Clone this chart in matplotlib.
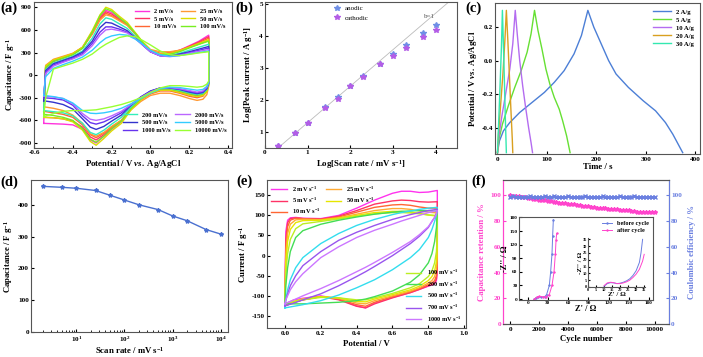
import numpy as np
import matplotlib
matplotlib.use('Agg')
import matplotlib.pyplot as plt
from matplotlib.ticker import MultipleLocator, FormatStrFormatter

plt.rcParams['font.family'] = ['Liberation Serif', 'DejaVu Serif']
plt.rcParams['font.weight'] = 'bold'
plt.rcParams['axes.labelweight'] = 'bold'
plt.rcParams['mathtext.fontset'] = 'custom'
plt.rcParams['mathtext.rm'] = 'Liberation Serif:bold'
plt.rcParams['mathtext.bf'] = 'Liberation Serif:bold'
plt.rcParams['mathtext.it'] = 'Liberation Serif:bold:italic'
plt.rcParams['mathtext.default'] = 'bf'
plt.rcParams['axes.unicode_minus'] = False
plt.rcParams['xtick.direction'] = 'in'
plt.rcParams['ytick.direction'] = 'in'
plt.rcParams['xtick.labelsize'] = 5.2
plt.rcParams['ytick.labelsize'] = 5.2
plt.rcParams['xtick.major.pad'] = 2
plt.rcParams['ytick.major.pad'] = 1.5
plt.rcParams['xtick.major.size'] = 2.5
plt.rcParams['ytick.major.size'] = 2.5
plt.rcParams['xtick.minor.size'] = 1.5
plt.rcParams['ytick.minor.size'] = 1.5
plt.rcParams['axes.labelsize'] = 6.3
plt.rcParams['axes.edgecolor'] = '#555555'
plt.rcParams['axes.linewidth'] = 0.8

# ---------------- (a) CV at different scan rates ----------------
a_labels = ['2 mV/s', '5 mV/s', '10 mV/s', '25 mV/s', '50 mV/s', '100 mV/s',
            '200 mV/s', '500 mV/s', '1000 mV/s', '2000 mV/s', '5000 mV/s', '10000 mV/s']
a_colors = ['#ff33dd', '#ff3366', '#ff6633', '#ff9933', '#dddd00', '#77ee22',
            '#33eebb', '#3333cc', '#6633ee', '#bb66ff', '#33ccff', '#99ff33']
a_E_up = [-0.55, -0.54, -0.50, -0.45, -0.40, -0.35, -0.30, -0.26, -0.23, -0.20, -0.16,
          -0.12, -0.08, -0.04, 0.00, 0.05, 0.10, 0.15, 0.20, 0.25, 0.30]
a_E_dn = [0.30, 0.29, 0.27, 0.24, 0.20, 0.15, 0.10, 0.05, 0.00, -0.05, -0.10,
          -0.15, -0.20, -0.24, -0.28, -0.31, -0.35, -0.40, -0.45, -0.50, -0.55]
a_up = [
    [-640, 100, 190, 230, 280, 370, 580, 780, 860, 830, 750, 680, 560, 430, 330, 280, 290, 330, 390, 450, 530],
    [-560, 90, 180, 225, 275, 360, 560, 760, 840, 810, 740, 670, 550, 420, 320, 270, 280, 320, 380, 440, 510],
    [-480, 110, 200, 240, 285, 365, 550, 740, 820, 790, 730, 670, 560, 430, 330, 290, 300, 330, 380, 430, 490],
    [-420, 130, 210, 250, 290, 370, 540, 730, 800, 780, 720, 660, 560, 440, 340, 310, 310, 330, 370, 410, 460],
    [-560, 120, 200, 240, 285, 370, 590, 800, 900, 870, 780, 700, 570, 440, 330, 280, 285, 320, 370, 420, 470],
    [-520, 100, 185, 225, 270, 355, 570, 790, 880, 850, 760, 680, 560, 430, 320, 270, 275, 310, 360, 410, 450],
    [-470, 70, 160, 205, 250, 320, 490, 680, 760, 740, 680, 620, 520, 410, 310, 260, 260, 290, 330, 370, 410],
    [-340, 60, 150, 195, 240, 305, 450, 630, 700, 690, 640, 590, 500, 400, 310, 260, 255, 280, 310, 345, 380],
    [-300, 40, 135, 180, 225, 285, 420, 570, 640, 640, 610, 570, 490, 400, 310, 255, 250, 270, 300, 330, 360],
    [-280, 20, 120, 170, 215, 270, 390, 530, 600, 610, 590, 560, 490, 400, 310, 255, 245, 260, 290, 315, 340],
    [-270, -20, 90, 140, 185, 240, 330, 430, 490, 520, 540, 530, 480, 410, 330, 270, 250, 260, 280, 300, 320],
    [-550, -300, 80, 120, 160, 210, 280, 360, 410, 450, 500, 520, 510, 460, 400, 320, 270, 260, 275, 295, 310],
]
a_dn = [
    [-100, -200, -260, -280, -260, -220, -190, -190, -230, -320, -450, -620, -720, -810, -900, -860, -720, -660, -650, -645, -640],
    [-100, -190, -250, -270, -250, -215, -185, -185, -225, -310, -440, -600, -700, -790, -860, -820, -690, -610, -580, -565, -560],
    [-120, -220, -280, -300, -280, -240, -210, -210, -250, -330, -450, -600, -690, -770, -830, -790, -660, -560, -520, -500, -480],
    [-150, -260, -320, -335, -310, -270, -240, -240, -270, -350, -460, -600, -680, -760, -810, -780, -640, -530, -470, -440, -420],
    [-130, -220, -270, -285, -265, -230, -200, -200, -240, -330, -460, -640, -740, -840, -930, -880, -730, -620, -580, -565, -560],
    [-120, -200, -250, -265, -245, -210, -185, -185, -225, -315, -440, -610, -710, -810, -890, -850, -710, -600, -560, -535, -520],
    [-110, -190, -240, -255, -235, -200, -175, -175, -215, -300, -420, -560, -650, -730, -790, -760, -640, -540, -500, -485, -470],
    [-100, -180, -230, -245, -225, -190, -170, -170, -210, -290, -400, -530, -610, -680, -720, -690, -580, -450, -390, -360, -340],
    [-100, -170, -220, -235, -215, -185, -165, -170, -215, -290, -390, -500, -570, -620, -650, -630, -540, -400, -330, -310, -300],
    [-100, -160, -210, -225, -205, -180, -165, -175, -225, -300, -390, -480, -540, -580, -600, -585, -510, -380, -310, -290, -280],
    [-100, -150, -190, -200, -185, -165, -160, -180, -240, -310, -380, -440, -480, -500, -510, -505, -470, -370, -310, -285, -270],
    [-80, -120, -150, -160, -150, -140, -140, -170, -230, -300, -350, -390, -420, -440, -460, -465, -470, -470, -480, -510, -550],
]

# ---------------- (b) log peak current vs log scan rate ----------------
b_logv = [0.30, 0.70, 1.00, 1.40, 1.70, 2.00, 2.30, 2.70, 3.00, 3.30, 3.70, 4.00]
b_anodic = [0.55, 0.95, 1.28, 1.78, 2.07, 2.42, 2.74, 3.10, 3.43, 3.70, 4.08, 4.32]
b_cathodic = [0.55, 0.94, 1.27, 1.75, 2.02, 2.42, 2.72, 3.10, 3.37, 3.60, 3.95, 4.18]
b_line_x = [0.30, 4.35]
b_line_y = [0.48, 5.10]

# ---------------- (c) GCD curves ----------------
c_labels = ['2 A/g', '5 A/g', '10 A/g', '20 A/g', '30 A/g']
c_colors = ['#4c7fd6', '#66e033', '#b46cf0', '#d9a020', '#33e8b0']
c_t = [
    [0, 4, 12, 25, 45, 70, 95, 115, 135, 155, 170, 183, 195, 210, 225, 240, 265, 295, 320, 340, 355, 375],
    [0, 3, 10, 22, 35, 48, 60, 68, 75, 82, 90, 98, 106, 115, 125, 132, 140, 147],
    [0, 3, 9, 17, 25, 31, 36, 40, 45, 51, 57, 63, 68, 71],
    [0, 2, 6, 11, 15, 18, 21, 24, 27, 30, 31],
    [0, 2, 5, 8, 10, 12, 14, 16, 18],
]
c_v = [
    [-0.55, -0.48, -0.42, -0.37, -0.31, -0.25, -0.19, -0.13, -0.06, 0.04, 0.15, 0.30,
     0.20, 0.10, 0.0, -0.08, -0.16, -0.24, -0.30, -0.37, -0.44, -0.55],
    [-0.55, -0.47, -0.38, -0.27, -0.16, -0.06, 0.05, 0.16, 0.30, 0.18, 0.07, -0.05, -0.14,
     -0.22, -0.29, -0.36, -0.45, -0.55],
    [-0.55, -0.45, -0.33, -0.19, -0.05, 0.10, 0.30, 0.16, 0.0, -0.15, -0.28, -0.40, -0.49, -0.55],
    [-0.55, -0.44, -0.28, -0.08, 0.12, 0.30, 0.12, -0.08, -0.28, -0.47, -0.55],
    [-0.55, -0.40, -0.17, 0.08, 0.30, 0.10, -0.12, -0.35, -0.55],
]

# ---------------- (d) capacitance vs scan rate ----------------
d_rate = [2, 5, 10, 25, 50, 100, 200, 500, 1000, 2000, 5000, 10000]
d_cap = [458, 455, 452, 445, 430, 415, 400, 385, 365, 350, 322, 308]

# ---------------- (e) CV 0-0.85 V ----------------
e_labels = ['2 mV s$^{-1}$', '5 mV s$^{-1}$', '10 mV s$^{-1}$', '25 mV s$^{-1}$', '50 mV s$^{-1}$',
            '100 mV s$^{-1}$', '200 mV s$^{-1}$', '500 mV s$^{-1}$', '700 mV s$^{-1}$', '1000 mV s$^{-1}$']
e_colors = ['#ff33ee', '#ff3366', '#ff6633', '#ffaa33', '#e6e600', '#bbee22',
            '#44dd55', '#33ddee', '#9955ee', '#cc77ff']
e_E_up = [0.0, 0.005, 0.015, 0.03, 0.06, 0.1, 0.2, 0.3, 0.4, 0.5, 0.6, 0.65, 0.7, 0.75, 0.8, 0.85]
e_E_dn = [0.85, 0.845, 0.835, 0.82, 0.8, 0.75, 0.7, 0.6, 0.5, 0.45, 0.4, 0.3, 0.2, 0.1, 0.05, 0.0]
e_up = [
    [-120, 60, 88, 94, 95, 93, 92, 100, 118, 138, 155, 160, 160, 157, 158, 162],
    [-125, 40, 82, 92, 94, 92, 91, 98, 112, 128, 136, 138, 137, 134, 133, 134],
    [-125, 20, 72, 88, 93, 92, 90, 96, 108, 120, 126, 127, 125, 121, 118, 118],
    [-122, 0, 55, 78, 89, 90, 89, 94, 103, 112, 117, 117, 115, 111, 108, 106],
    [-120, -20, 35, 65, 82, 87, 88, 93, 100, 107, 110, 110, 108, 105, 101, 98],
    [-118, -45, 5, 40, 67, 79, 85, 91, 98, 104, 107, 107, 106, 104, 101, 100],
    [-120, -75, -30, 10, 45, 62, 78, 88, 96, 103, 108, 110, 111, 112, 112, 110],
    [-130, -110, -85, -60, -30, -5, 30, 55, 75, 90, 102, 107, 111, 115, 118, 120],
    [-125, -110, -95, -75, -50, -25, 10, 38, 58, 75, 90, 96, 102, 107, 112, 115],
    [-120, -110, -100, -85, -65, -45, -5, 22, 45, 63, 78, 86, 93, 100, 107, 112],
]
e_dn = [
    [-40, -62, -70, -73, -76, -84, -92, -104, -118, -130, -125, -108, -100, -106, -110, -120],
    [-30, -58, -68, -72, -75, -84, -92, -105, -120, -130, -126, -110, -102, -110, -116, -125],
    [-20, -50, -62, -68, -72, -82, -90, -102, -116, -126, -122, -108, -102, -110, -116, -125],
    [0, -35, -52, -62, -68, -80, -88, -100, -112, -120, -118, -106, -102, -108, -114, -122],
    [20, -15, -38, -52, -62, -76, -85, -97, -108, -115, -114, -105, -102, -108, -114, -120],
    [50, 10, -18, -38, -52, -70, -80, -94, -105, -110, -110, -105, -104, -110, -115, -118],
    [110, 70, 35, 5, -18, -48, -66, -88, -102, -108, -112, -116, -118, -120, -120, -120],
    [120, 100, 85, 65, 45, 15, -5, -35, -60, -70, -80, -98, -112, -122, -126, -130],
    [115, 105, 95, 85, 70, 48, 30, 0, -27, -40, -52, -75, -95, -110, -118, -125],
    [112, 103, 95, 85, 72, 52, 35, 8, -17, -29, -40, -62, -82, -100, -110, -120],
]

# ---------------- (f) cycling ----------------
f_cycles = list(range(0, 10001, 200))
f_retention = [100.0, 99.9, 99.6, 99.3, 98.9, 98.5, 98.2, 97.8, 97.4, 97.0,
               96.7, 96.4, 96.1, 95.8, 95.5, 95.1, 94.8, 94.5, 94.2, 93.8,
               93.5, 93.3, 93.0, 92.7, 92.4, 92.0, 91.8, 91.4, 91.1, 90.8,
               90.5, 90.3, 90.1, 89.9, 89.7, 89.5, 89.3, 89.1, 88.9, 88.7,
               88.5, 88.3, 88.0, 87.6, 87.2, 87.0, 87.1, 86.9, 87.2, 87.0,
               87.1]
f_coulombic = [99.0, 99.2, 98.8, 99.1, 98.7, 99.0, 98.8, 99.2, 98.9, 99.0,
               98.6, 99.1, 99.3, 98.8, 98.9, 99.2, 98.7, 99.0, 98.8, 99.1,
               99.2, 98.9, 99.0, 98.7, 99.1, 98.9, 99.2, 99.0, 98.8, 99.1,
               99.0, 98.9, 99.2, 98.8, 99.0, 99.1, 98.9, 99.0, 99.2, 98.8,
               99.1, 99.0, 98.9, 99.3, 99.0, 98.9, 99.1, 99.0, 98.9, 99.1,
               99.0]
# Nyquist (inset)
z_before_re = [10, 12, 15, 20, 25, 28, 32, 34, 36, 37, 38]
z_before_im = [0, 3, 5, 4, 5, 10, 30, 60, 100, 140, 175]
z_after_re = [10, 13, 17, 22, 27, 32, 36, 39, 41, 42, 43]
z_after_im = [0, 4, 6, 5, 5, 10, 30, 60, 100, 130, 145]
zz_before_re = [10, 12, 14, 16, 18, 20, 22, 24, 26, 28, 30, 32, 33, 34]
zz_before_im = [0.5, 2.5, 3.2, 3.0, 2.5, 2.8, 3.5, 4.5, 6, 8.5, 12, 18, 25, 35]
zz_after_re = [10, 12, 14, 16, 18, 20, 22, 24, 26, 28, 30, 32, 34, 35]
zz_after_im = [1, 3, 3.5, 3.2, 2.5, 2.5, 3, 3.8, 5, 7, 9.5, 13, 19, 24]

W, H = 703, 357
fig = plt.figure(figsize=(W / 100, H / 100), dpi=100)


def box(l, t, r, b):
    return [l / W, 1 - b / H, (r - l) / W, (b - t) / H]


# (a)
ax = fig.add_axes(box(34, 2, 232, 147.5))
for i in range(len(a_labels)):
    x = a_E_up + a_E_dn + [a_E_up[0]]
    y = a_up[i] + a_dn[i] + [a_up[i][0]]
    ax.plot(x, y, color=a_colors[i], lw=1.0, label=a_labels[i])
ax.set_xlim(-0.6, 0.42)
ax.set_ylim(-960, 970)
ax.xaxis.set_major_locator(MultipleLocator(0.2))
ax.xaxis.set_minor_locator(MultipleLocator(0.1))
ax.xaxis.set_major_formatter(FormatStrFormatter('%.1f'))
ax.yaxis.set_major_locator(MultipleLocator(300))
ax.set_xlabel(r'Potential / V $\mathit{vs.}$ Ag/AgCl', labelpad=2)
ax.set_ylabel('Capacitance / F g$^{-1}$', labelpad=1)
h, l = ax.get_legend_handles_labels()
leg1 = ax.legend(h[:6], l[:6], ncol=2, loc='upper right', frameon=False, fontsize=4.6,
                 handlelength=2.2, columnspacing=0.8, labelspacing=0.35, borderaxespad=0.6)
ax.add_artist(leg1)
ax.legend(h[6:], l[6:], ncol=2, loc='lower right', bbox_to_anchor=(1.0, 0.06), frameon=False,
          fontsize=4.6, handlelength=2.2, columnspacing=0.8, labelspacing=0.35)

# (b)
ax = fig.add_axes(box(265, 2, 457, 147.5))
ax.plot(b_line_x, b_line_y, color='#bbbbbb', lw=0.6)
ax.plot(b_logv, b_anodic, '*', color='#6f8fe6', ms=4, label='anodic')
ax.plot(b_logv, b_cathodic, '*', color='#b35de6', ms=4, label='cathodic')
ax.text(3.86, 4.55, 'b=1', fontsize=5, color='#555555', ha='center', fontweight='normal')
ax.set_xlim(0, 4.5)
ax.set_ylim(0.5, 5.05)
ax.xaxis.set_major_locator(MultipleLocator(1))
ax.yaxis.set_major_locator(MultipleLocator(1))
ax.set_xlabel('Log[Scan rate / mV s$^{-1}$]', labelpad=2)
ax.set_ylabel('Log[Peak current / A g$^{-1}$]', labelpad=3)
ax.legend(loc='upper center', bbox_to_anchor=(0.45, 1.02), frameon=False,
          handlelength=1, handletextpad=0.6, labelspacing=0.5, prop={'weight': 'normal', 'size': 5})

# (c)
ax = fig.add_axes(box(495, 3, 700, 154))
for i in range(len(c_labels)):
    ax.plot(c_t[i], c_v[i], color=c_colors[i], lw=1.0, label=c_labels[i])
ax.set_xlim(-5, 410)
ax.set_ylim(-0.558, 0.344)
ax.xaxis.set_major_locator(MultipleLocator(100))
ax.yaxis.set_major_locator(MultipleLocator(0.2))
ax.yaxis.set_major_formatter(FormatStrFormatter('%.1f'))
ax.set_xlabel('Time / s', labelpad=1)
ax.set_ylabel(r'Potential / V $\mathit{vs.}$ Ag/AgCl', labelpad=2)
ax.legend(loc='upper right', frameon=False, fontsize=4.8, handlelength=2.6, labelspacing=0.35)

# (d)
ax = fig.add_axes(box(31, 180, 228, 332))
ax.plot(d_rate, d_cap, '-', marker='*', color='#4a70d0', lw=1.0, ms=3)
ax.set_xscale('log')
ax.set_xlim(1.14, 14200)
ax.set_ylim(0, 478)
ax.yaxis.set_major_locator(MultipleLocator(100))
ax.set_xlabel('Scan rate / mV s$^{-1}$', labelpad=1)
ax.set_ylabel('Capacitance / F g$^{-1}$', labelpad=2)

# (e)
ax = fig.add_axes(box(267, 180, 466, 328))
for i in range(len(e_labels)):
    x = e_E_up + e_E_dn
    y = e_up[i] + e_dn[i]
    ax.plot(x, y, color=e_colors[i], lw=1.0, label=e_labels[i])
ax.set_xlim(-0.1, 1.01)
ax.set_ylim(-180, 188)
ax.xaxis.set_major_locator(MultipleLocator(0.2))
ax.xaxis.set_major_formatter(FormatStrFormatter('%.1f'))
ax.yaxis.set_major_locator(MultipleLocator(50))
ax.set_xlabel('Potential / V', labelpad=3)
ax.set_ylabel('Current / F g$^{-1}$', labelpad=1)
h, l = ax.get_legend_handles_labels()
leg1 = ax.legend(h[:5], l[:5], ncol=2, loc='upper left', frameon=False, fontsize=4.6,
                 handlelength=2.4, columnspacing=0.8, labelspacing=0.3, borderaxespad=0.3)
ax.add_artist(leg1)
ax.legend(h[5:], l[5:], loc='lower right', frameon=False, fontsize=4.6,
          handlelength=2.4, labelspacing=0.35, borderaxespad=0.3)

# (f)
mag = '#ff44cc'
blu = '#6a7fe0'
ax = fig.add_axes(box(503, 180, 669, 324))
ax.plot(f_cycles, f_retention, '-', marker='*', color=mag, lw=0.6, ms=3)
ax.set_xlim(-500, 11000)
ax.set_ylim(0, 112)
ax.xaxis.set_major_locator(MultipleLocator(2000))
ax.yaxis.set_major_locator(MultipleLocator(20))
ax.set_xlabel('Cycle number', labelpad=2)
ax.set_ylabel('Capacitance retention / %', color=mag, labelpad=3)
ax.tick_params(axis='y', colors=mag)
ax.spines['left'].set_color(mag)
ax2 = ax.twinx()
ax2.plot(f_cycles, f_coulombic, '-', marker='x', color=blu, lw=0.6, ms=2.5)
ax2.set_ylim(0, 112)
ax2.yaxis.set_major_locator(MultipleLocator(20))
ax2.set_ylabel('Coulombic efficiency / %', color=blu, labelpad=4)
ax2.tick_params(axis='y', colors=blu, direction='in')
ax2.spines['right'].set_color(blu)
ax2.spines['left'].set_color(mag)

# inset Nyquist
axi = fig.add_axes(box(519, 217, 653, 300))
axi.plot(z_before_re, z_before_im, '-', marker='+', color=blu, lw=0.7, ms=2, label='before cycle')
axi.plot(z_after_re, z_after_im, '-', marker='+', color=mag, lw=0.7, ms=2, label='after cycle')
axi.set_xlim(-13, 186)
axi.set_ylim(-2, 181)
axi.xaxis.set_major_locator(MultipleLocator(30))
axi.yaxis.set_major_locator(MultipleLocator(30))
axi.tick_params(labelsize=3.8, length=2, pad=1)
axi.set_xlabel("Z' / \u03a9", fontsize=6, labelpad=0)
axi.set_ylabel("-Z'' / \u03a9", fontsize=6, labelpad=0)
axi.legend(loc='upper right', frameon=False, fontsize=4.5, handlelength=1.6, labelspacing=0.3,
           borderaxespad=0.2)

axz = fig.add_axes(box(588, 238, 645, 287))
axz.plot(zz_before_re, zz_before_im, '-', color=blu, lw=0.7)
axz.plot(zz_after_re, zz_after_im, '-', color=mag, lw=0.7)
axz.set_xlim(0, 35.5)
axz.set_ylim(0, 36)
axz.xaxis.set_major_locator(MultipleLocator(5))
axz.yaxis.set_major_locator(MultipleLocator(5))
axz.tick_params(labelsize=3.2, length=1.5, pad=0.5)
axz.spines['top'].set_visible(False)
axz.spines['right'].set_visible(False)
axz.patch.set_alpha(0)
axz.set_xlabel("Z' / \u03a9", fontsize=5, labelpad=0)
axz.set_ylabel("-Z'' / \u03a9", fontsize=5, labelpad=0)

# panel labels
for s, x, y in [('(a)', 0, 2), ('(b)', 235, 2), ('(c)', 465, 2),
                ('(d)', 0, 176), ('(e)', 236, 175), ('(f)', 471, 175)]:
    fig.text(x / W, 1 - y / H, s, fontsize=10.5, fontweight='bold', va='top', ha='left')

fig.savefig('out.png', dpi=100)
